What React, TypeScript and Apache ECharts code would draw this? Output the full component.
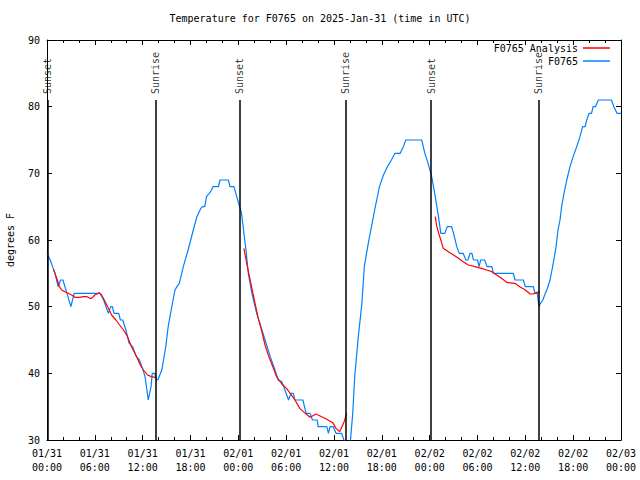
import React, { useEffect, useRef } from 'react';
import * as echarts from 'echarts';

// hours since 2025-01-31 00:00 UTC
const obsHours = [0, 0.4, 0.7, 1.0, 1.2, 1.4, 1.7, 2.0, 2.5, 3.0, 3.4, 6.65, 7.1, 7.7, 8.0, 8.2, 8.4, 9.0, 9.2, 9.5, 9.9, 10.3, 10.75, 11.2, 11.6, 11.9, 12.3, 12.7, 13.05, 13.2, 13.5, 13.75, 13.9, 14.4, 14.9, 15.2, 15.5, 16.05, 16.3, 16.6, 17.1, 17.7, 18.35, 18.8, 19.3, 19.5, 19.8, 20.0, 20.35, 20.65, 20.8, 21.5, 21.7, 22.75, 22.95, 23.45, 23.8, 24.1, 24.4, 24.7, 24.96, 25.25, 25.7, 26.3, 27.1, 28.0, 28.6, 29.0, 29.45, 29.85, 30.3, 30.6, 30.9, 31.1, 32.1, 32.5, 33.0, 33.3, 33.9, 34.0, 35.1, 35.3, 35.5, 35.9, 36.25, 36.95, 37.25, 37.6, 38.0, 38.35, 38.6, 39.05, 39.5, 39.8, 40.3, 40.7, 41.1, 41.7, 42.2, 42.7, 43.2, 43.65, 44.3, 44.7, 45.0, 47.0, 47.4, 47.8, 48.25, 48.7, 49.1, 49.4, 49.9, 50.2, 50.75, 51.0, 51.4, 51.7, 52.2, 52.55, 52.8, 53.06, 53.3, 53.5, 54.0, 54.2, 54.4, 54.9, 55.2, 55.8, 56.0, 58.5, 58.7, 59.75, 60.0, 61.0, 61.2, 61.5, 61.7, 61.9, 62.2, 62.5, 62.7, 63.1, 63.5, 63.85, 64.1, 64.35, 64.55, 64.85, 65.2, 65.6, 66.0, 66.45, 66.85, 67.2, 67.5, 67.7, 68.0, 68.3, 68.5, 68.8, 69.15, 70.8, 71.1, 71.5, 72];
const obsTemps = [58, 57, 56, 55, 54, 53, 54, 54, 52, 50, 52, 52, 51, 49, 50, 50, 49, 49, 48, 48, 46.5, 44.5, 44, 42.5, 42, 41, 39.5, 36, 38, 40, 40, 39, 39, 40.5, 44, 47, 49, 52.5, 53, 53.5, 56, 58.5, 61.5, 63.5, 64.75, 65, 65, 66.5, 67, 67.5, 68, 68, 69, 69, 68, 68, 66.5, 65.25, 64, 61, 58.5, 55, 52, 49, 46, 42.5, 40.5, 39, 38.75, 37.5, 36, 37, 37, 36, 36, 34, 34, 33, 33, 32, 32, 31, 32, 32, 31, 31, 30, 29, 29, 34, 39.5, 45.5, 50.5, 56, 59.5, 62, 64.5, 68, 69.75, 71, 72, 73, 73, 74, 75, 75, 73, 71.5, 69.5, 66.5, 63.5, 61, 61, 62, 62, 61, 59, 58, 58, 57, 57, 58, 58, 57, 57, 56, 57, 57, 56, 56, 55, 55, 54, 54, 53, 53, 52, 52, 50, 50.5, 51, 52, 52.5, 54, 56.5, 59, 61.5, 63, 65, 67, 69, 71, 72.5, 74, 75.5, 77, 77, 78, 79, 79, 80, 80, 81, 81, 80, 79, 79];

const anaHours = [0.8, 1.0, 1.3, 1.55, 1.85, 2.25, 2.9, 3.3, 3.5, 4.1, 4.55, 5.0, 5.4, 5.6, 6.0, 6.55, 6.85, 7.3, 7.7, 8.1, 8.65, 9.1, 9.6, 10.1, 10.6, 11.25, 11.7, 12.1, 12.6, 13.1, 13.55, 19,
  24.7, 25.05, 25.4, 25.7, 26.1, 26.5, 26.9, 27.35, 27.9, 28.4, 28.8, 29.45, 30.05, 30.5, 31.1, 31.7, 32.4, 33.0, 33.75, 34.45, 35.1, 35.85, 36.25, 36.7, 37.2, 37.6, 43,
  48.7, 48.9, 49.2, 49.4, 49.7, 50.35, 51.0, 51.6, 52.2, 52.85, 53.7, 54.5, 55.15, 55.8, 56.4, 57.0, 57.75, 58.7, 59.3, 60.0, 60.6, 61.0, 61.4, 61.8];
const anaTemps: (number | null)[] = [55.6, 55, 54, 53, 52.5, 52.25, 51.85, 51.6, 51.4, 51.4, 51.5, 51.5, 51.25, 51.25, 51.75, 52.1, 51.75, 50.75, 49.75, 48.75, 48, 47.25, 46.5, 45.5, 44, 42.5, 41.25, 40.5, 39.75, 39.5, 39.4, null,
  58.75, 56.5, 54.5, 52.75, 50.5, 48.25, 46.5, 44.25, 42.25, 40.75, 39.5, 38.4, 37.75, 37, 36, 34.75, 34, 33.4, 33.9, 33.5, 33.1, 32.6, 31.75, 31.25, 32.5, 34, null,
  63.5, 62, 60.75, 60, 58.75, 58.25, 57.75, 57.25, 56.75, 56.25, 56, 55.75, 55.5, 55.25, 54.75, 54.25, 53.6, 53.5, 53, 52.5, 51.9, 51.9, 52.1, 52.25];

const sunHours = [0.05, 13.58, 24.12, 37.5, 48.18, 61.63];
const sunLabels = ['Sunset', 'Sunrise', 'Sunset', 'Sunrise', 'Sunset', 'Sunrise'];
const sunLineTop = 81;

const FONT = 'DejaVu Sans Mono';

function fmtHour(v: number): string {
  const dayIdx = Math.floor(v / 24);
  const hh = Math.round(v - dayIdx * 24);
  const day = 31 + dayIdx;
  const mo = day > 31 ? '02' : '01';
  const dd = day > 31 ? day - 31 : day;
  const p = (n: number) => (n < 10 ? '0' + n : '' + n);
  return `${mo}/${p(dd)}\n${p(hh)}:00`;
}

export default function App() {
  const ref = useRef<HTMLDivElement>(null);
  useEffect(() => {
    if (!ref.current) return;
    const chart = echarts.init(ref.current, null, { renderer: 'svg' });
    const axisCommon = {
      type: 'value' as const,
      axisLine: { show: true, onZero: false, lineStyle: { color: '#000', width: 1 } },
      splitLine: { show: false },
    };
    chart.setOption({
      animation: false,
      backgroundColor: '#fff',
      textStyle: { fontFamily: FONT },
      title: {
        text: 'Temperature for F0765 on 2025-Jan-31 (time in UTC)',
        left: 'center',
        top: 13,
        padding: 0,
        textStyle: { fontSize: 10, fontWeight: 'normal', color: '#000', fontFamily: FONT },
      },
      legend: [
        {
          data: ['F0765 Analysis'], right: 30, top: 43, padding: 0, align: 'right', icon: 'rect',
          itemWidth: 27, itemHeight: 1.5, textStyle: { fontSize: 10, color: '#000', fontFamily: FONT },
        },
        {
          data: ['F0765'], right: 30, top: 56, padding: 0, align: 'right', icon: 'rect',
          itemWidth: 27, itemHeight: 1.5, textStyle: { fontSize: 10, color: '#000', fontFamily: FONT },
        },
      ],
      grid: { left: 47, right: 19, top: 40, bottom: 40, containLabel: false, outerBoundsMode: 'none' },
      xAxis: [
        {
          ...axisCommon,
          position: 'bottom',
          min: 0, max: 72, interval: 6,
          axisTick: { show: true, inside: true, length: 5, lineStyle: { color: '#000' } },
          minorTick: { show: true, splitNumber: 3, length: 3, lineStyle: { color: '#000' } },
          axisLabel: {
            formatter: (v: number) => fmtHour(v), fontSize: 10, color: '#000', fontFamily: FONT,
            lineHeight: 14, margin: 6,
          },
        },
        {
          ...axisCommon,
          position: 'top',
          min: 0, max: 72, interval: 6,
          axisTick: { show: true, inside: true, length: 5, lineStyle: { color: '#000' } },
          minorTick: { show: true, splitNumber: 3, length: 3, lineStyle: { color: '#000' } },
          axisLabel: { show: false },
        },
      ],
      yAxis: [
        {
          ...axisCommon,
          position: 'left',
          min: 30, max: 90, interval: 10,
          name: 'degrees F', nameLocation: 'middle', nameRotate: 90, nameGap: 32,
          nameTextStyle: { fontSize: 10, color: '#000', fontFamily: FONT },
          axisTick: { show: true, inside: true, length: 5, lineStyle: { color: '#000' } },
          axisLabel: { fontSize: 10, color: '#000', fontFamily: FONT, margin: 7 },
        },
        {
          ...axisCommon,
          position: 'right',
          min: 30, max: 90, interval: 10,
          axisTick: { show: true, inside: true, length: 5, lineStyle: { color: '#000' } },
          axisLabel: { show: false },
        },
      ],
      series: [
        {
          name: 'Sun',
          type: 'scatter',
          xAxisIndex: 0, yAxisIndex: 0,
          symbolSize: 0,
          itemStyle: { color: 'rgba(0,0,0,0)' },
          silent: true,
          data: sunHours.map((h, i) => [h, sunLineTop, sunLabels[i]]),
          label: {
            show: true,
            formatter: (p: any) => p.data[2],
            position: 'top',
            distance: 6,
            rotate: 90,
            align: 'left',
            verticalAlign: 'middle',
            fontSize: 10,
            color: '#000',
            fontFamily: FONT,
          },
          labelLayout: { hideOverlap: false },
          markLine: {
            silent: true,
            symbol: ['none', 'none'],
            label: { show: false },
            lineStyle: { color: '#000', width: 1.5, type: 'solid' },
            emphasis: { disabled: true },
            data: sunHours.map((h) => [{ coord: [h, 30] }, { coord: [h, sunLineTop] }]),
          },
          z: 1,
        },
        {
          name: 'F0765 Analysis',
          type: 'line',
          xAxisIndex: 0, yAxisIndex: 0,
          symbol: 'none',
          connectNulls: false,
          clip: true,
          color: '#ff0000',
          lineStyle: { color: '#ff0000', width: 1.2 },
          data: anaHours.map((h, i) => [h, anaTemps[i] === null ? '-' : anaTemps[i]]),
          z: 3,
        },
        {
          name: 'F0765',
          type: 'line',
          xAxisIndex: 0, yAxisIndex: 0,
          symbol: 'none',
          clip: true,
          color: '#0080ff',
          lineStyle: { color: '#0080ff', width: 1.2 },
          data: obsHours.map((h, i) => [h, obsTemps[i]]),
          z: 2,
        },
      ],
    });
    return () => chart.dispose();
  }, []);
  return <div ref={ref} style={{ width: 640, height: 480, position: 'absolute', left: 0, top: 0 }} />;
}
